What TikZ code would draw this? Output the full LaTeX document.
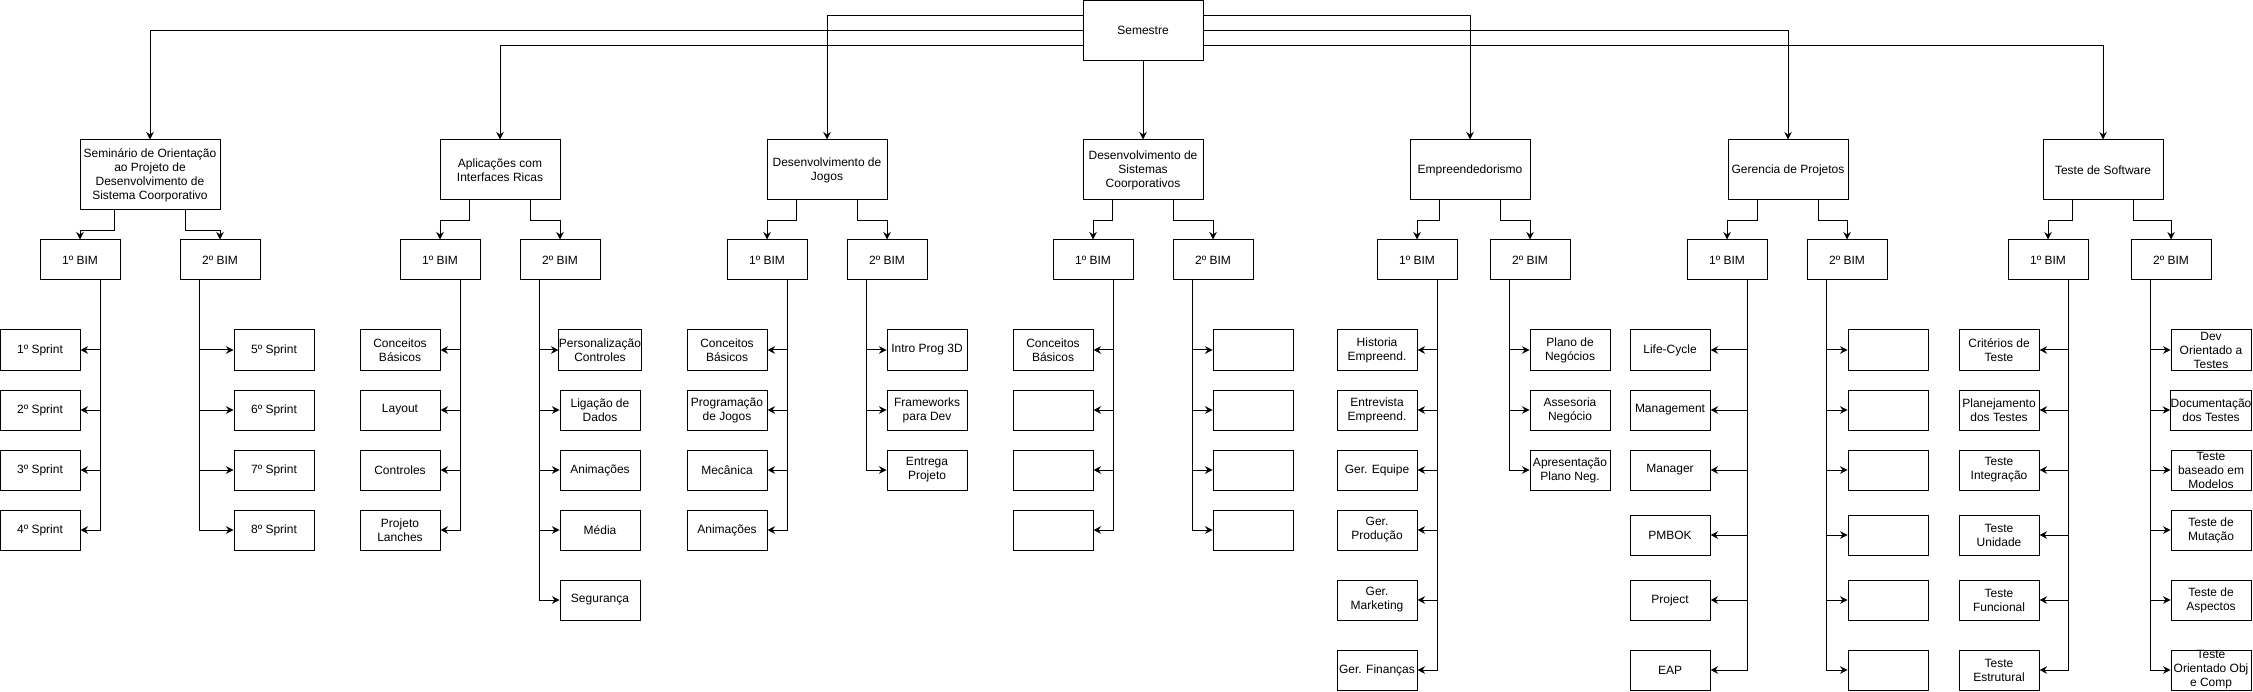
\documentclass[tikz,border=0pt]{standalone}
\usepackage{fontspec}
\setmainfont{Liberation Sans}
\usetikzlibrary{arrows.meta,calc}
\begin{document}
\begin{tikzpicture}[x=1pt,y=-1pt,
 box/.style={draw=black,line width=1pt,minimum width=80pt,minimum height=40pt,inner sep=0pt,align=center,font=\fontsize{12}{14}\selectfont},
 subj/.style={box,minimum width=120pt,minimum height=60pt},
 conn/.style={draw=black,line width=1pt,-{Stealth[length=7.5pt,width=7.5pt,inset=2.5pt]}},
]
\useasboundingbox (0,0) rectangle (2253,692);
% root
\node[subj] (sem) at (1143,30.5) {Semestre};
% subjects
\node[subj,minimum width=140pt,minimum height=70pt] (semi) at (150,175) {Seminário de Orientação\\ao Projeto de\\Desenvolvimento de\\Sistema Coorporativo};
\node[subj] (apl) at (500,170) {Aplicações com\\Interfaces Ricas};
\node[subj] (jog) at (827,170) {Desenvolvimento de\\Jogos};
\node[subj] (sis) at (1143,170) {Desenvolvimento de\\Sistemas\\Coorporativos};
\node[subj] (emp) at (1470,170) {Empreendedorismo};
\node[subj] (ger) at (1788,170) {Gerencia de Projetos};
\node[subj] (tst) at (2103,170) {Teste de Software};
% root connectors
\draw[conn] ($(sem.north west)!0.25!(sem.south west)$) -| (jog.north);
\draw[conn] (sem.west) -| (semi.north);
\draw[conn] ($(sem.north west)!0.75!(sem.south west)$) -| (apl.north);
\draw[conn] ($(sem.north east)!0.25!(sem.south east)$) -| (emp.north);
\draw[conn] (sem.east) -| (ger.north);
\draw[conn] ($(sem.north east)!0.75!(sem.south east)$) -| (tst.north);
\draw[conn] (sem.south) -- (sis.north);
% BIM nodes
\foreach \s/\a/\b in {semi/80/220, apl/440/560, jog/767/887, sis/1093/1213, emp/1417/1530, ger/1727/1847, tst/2048/2171}{
  \node[box] (\s b1) at (\a,260) {1º BIM};
  \node[box] (\s b2) at (\b,260) {2º BIM};
  \draw[conn] ($(\s.south west)!0.25!(\s.south east)$) -- ++(0,20) -| (\s b1.north);
  \draw[conn] ($(\s.south west)!0.75!(\s.south east)$) -- ++(0,20) -| (\s b2.north);
}
% leaf columns
\foreach \t/\y [count=\i] in {{1º Sprint}/350,{2º Sprint}/410,{3º Sprint}/470,{4º Sprint}/530}{
  \node[box] (semil\i) at (40,\y) {\t};
  \draw[conn] ($(semib1.south west)!0.75!(semib1.south east)$) |- (semil\i.east);}
\foreach \t/\y [count=\i] in {{5º Sprint}/350,{6º Sprint}/410,{7º Sprint}/470,{8º Sprint}/530}{
  \node[box] (semir\i) at (274,\y) {\t};
  \draw[conn] ($(semib2.south west)!0.25!(semib2.south east)$) |- (semir\i.west);}
\foreach \t/\y [count=\i] in {{Conceitos\\Básicos}/350,{Layout}/410,{Controles}/470,{Projeto\\Lanches}/530}{
  \node[box] (apll\i) at (400,\y) {\t};
  \draw[conn] ($(aplb1.south west)!0.75!(aplb1.south east)$) |- (apll\i.east);}
\foreach \t/\y [count=\i] in {{Personalização\\Controles}/350,{Ligação de\\Dados}/410,{Animações}/470,{Média}/530,{Segurança}/600}{
  \node[box] (aplr\i) at (600,\y) {\t};
  \draw[conn] ($(aplb2.south west)!0.25!(aplb2.south east)$) |- (aplr\i.west);}
\foreach \t/\y [count=\i] in {{Conceitos\\Básicos}/350,{Programação\\de Jogos}/410,{Mecânica}/470,{Animações}/530}{
  \node[box] (jogl\i) at (727,\y) {\t};
  \draw[conn] ($(jogb1.south west)!0.75!(jogb1.south east)$) |- (jogl\i.east);}
\foreach \t/\y [count=\i] in {{Intro Prog 3D}/350,{Frameworks\\para Dev}/410,{Entrega\\Projeto}/470}{
  \node[box] (jogr\i) at (927,\y) {\t};
  \draw[conn] ($(jogb2.south west)!0.25!(jogb2.south east)$) |- (jogr\i.west);}
\foreach \t/\y [count=\i] in {{Conceitos\\Básicos}/350,{}/410,{}/470,{}/530}{
  \node[box] (sisl\i) at (1053,\y) {\t};
  \draw[conn] ($(sisb1.south west)!0.75!(sisb1.south east)$) |- (sisl\i.east);}
\foreach \t/\y [count=\i] in {{}/350,{}/410,{}/470,{}/530}{
  \node[box] (sisr\i) at (1253,\y) {\t};
  \draw[conn] ($(sisb2.south west)!0.25!(sisb2.south east)$) |- (sisr\i.west);}
\foreach \t/\y [count=\i] in {{Historia\\Empreend.}/350,{Entrevista\\Empreend.}/410,{Ger. Equipe}/470,{Ger.\\Produção}/530,{Ger.\\Marketing}/600,{Ger. Finanças}/670}{
  \node[box] (empl\i) at (1377,\y) {\t};
  \draw[conn] ($(empb1.south west)!0.75!(empb1.south east)$) |- (empl\i.east);}
\foreach \t/\y [count=\i] in {{Plano de\\Negócios}/350,{Assesoria\\Negócio}/410,{Apresentação\\Plano Neg.}/470}{
  \node[box] (empr\i) at (1570,\y) {\t};
  \draw[conn] ($(empb2.south west)!0.25!(empb2.south east)$) |- (empr\i.west);}
\foreach \t/\y [count=\i] in {{Life-Cycle}/350,{Management}/410,{Manager}/470,{PMBOK}/535,{Project}/600,{EAP}/670}{
  \node[box] (gerl\i) at (1670,\y) {\t};
  \draw[conn] ($(gerb1.south west)!0.75!(gerb1.south east)$) |- (gerl\i.east);}
\foreach \t/\y [count=\i] in {{}/350,{}/410,{}/470,{}/535,{}/600,{}/670}{
  \node[box] (gerr\i) at (1888,\y) {\t};
  \draw[conn] ($(gerb2.south west)!0.25!(gerb2.south east)$) |- (gerr\i.west);}
\foreach \t/\y [count=\i] in {{Critérios de\\Teste}/350,{Planejamento\\dos Testes}/410,{Teste\\Integração}/470,{Teste\\Unidade}/535,{Teste\\Funcional}/600,{Teste\\Estrutural}/670}{
  \node[box] (tstl\i) at (1999,\y) {\t};
  \draw[conn] ($(tstb1.south west)!0.75!(tstb1.south east)$) |- (tstl\i.east);}
\foreach \t/\y [count=\i] in {{Dev\\Orientado a\\Testes}/350,{Documentação\\dos Testes}/410,{Teste\\baseado em\\Modelos}/470,{Teste de\\Mutação}/530,{Teste de\\Aspectos}/600,{Teste\\Orientado Obj\\e Comp}/670}{
  \node[box] (tstr\i) at (2211,\y) {\t};
  \draw[conn] ($(tstb2.south west)!0.25!(tstb2.south east)$) |- (tstr\i.west);}
\end{tikzpicture}
\end{document}
